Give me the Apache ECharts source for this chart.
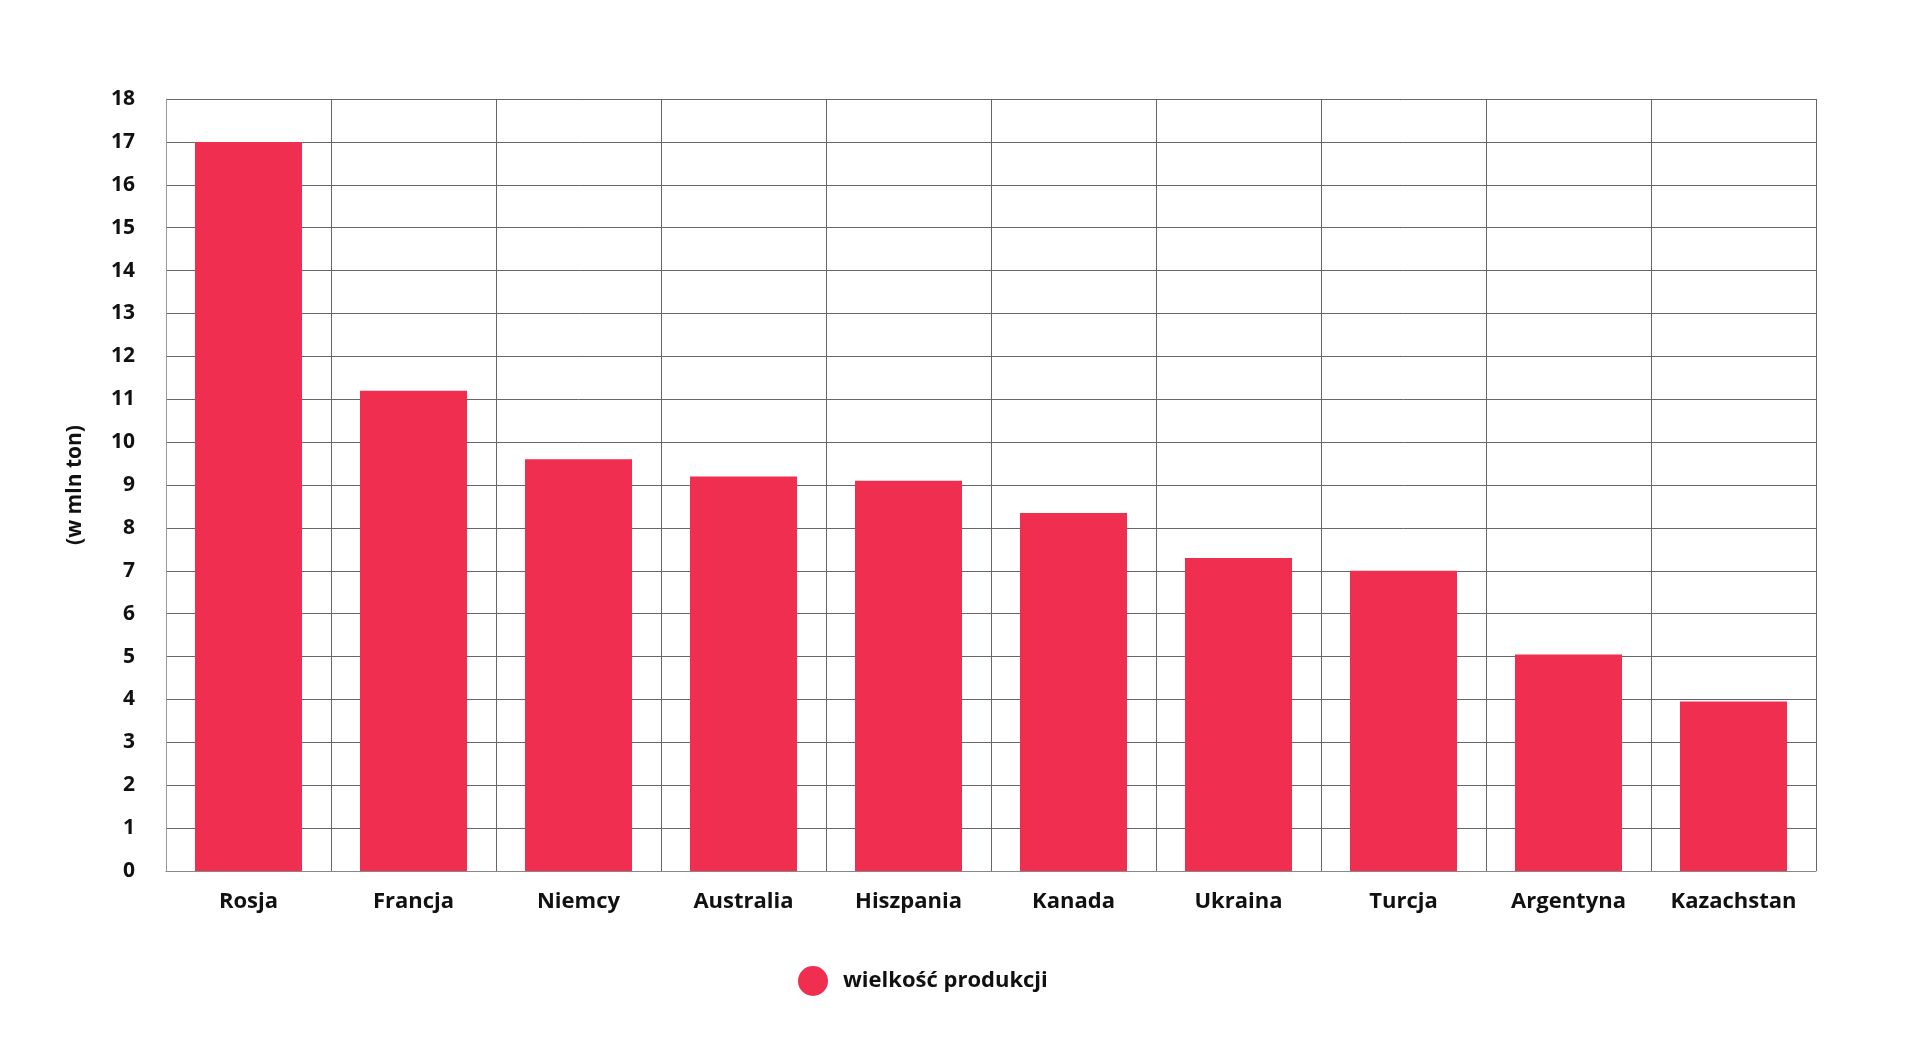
<!DOCTYPE html>
<html>
<head>
<meta charset="utf-8">
<title>wielkość produkcji</title>
<script src="https://cdn.jsdelivr.net/npm/echarts@6/dist/echarts.min.js"></script>
<style>
  html, body { margin: 0; padding: 0; background: #fff; }
  #main { width: 1920px; height: 1044px; }
</style>
</head>
<body>
<div id="main"></div>
<script>
// dane
var kraje = ['Rosja', 'Francja', 'Niemcy', 'Australia', 'Hiszpania', 'Kanada', 'Ukraina', 'Turcja', 'Argentyna', 'Kazachstan'];
var produkcja = [17.0, 11.2, 9.6, 9.2, 9.1, 8.35, 7.3, 7.0, 5.05, 3.95];
var nazwaSerii = 'wielkość produkcji';
var nazwaOsiY = '(w mln ton)';

var font = "'Open Sans', 'Noto Sans', sans-serif";
var chart = echarts.init(document.getElementById('main'), null, { renderer: 'canvas' });

chart.setOption({
  animation: false,
  backgroundColor: '#ffffff',
  grid: {
    left: 166,
    right: 104,
    top: 99,
    bottom: 173
  },
  legend: {
    data: [nazwaSerii],
    left: 793,
    top: 961,
    icon: 'circle',
    itemWidth: 30,
    itemHeight: 30,
    textStyle: {
      fontFamily: font,
      fontWeight: 'bold',
      fontSize: 22,
      color: '#111',
      padding: [0, 0, 0, 10]
    }
  },
  xAxis: {
    type: 'category',
    data: kraje,
    axisLine: { show: true, lineStyle: { color: '#888', width: 1 } },
    axisTick: { show: false },
    splitLine: { show: true, lineStyle: { color: '#666', width: 1 } },
    axisLabel: {
      margin: 20,
      fontFamily: font,
      fontWeight: 'bold',
      fontSize: 22,
      color: '#111',
      interval: 0
    }
  },
  yAxis: {
    type: 'value',
    min: 0,
    max: 18,
    interval: 1,
    name: nazwaOsiY,
    nameLocation: 'middle',
    nameGap: 80,
    nameTextStyle: {
      fontFamily: font,
      fontWeight: 'bold',
      fontSize: 21,
      color: '#111'
    },
    axisLine: { show: true, lineStyle: { color: '#999', width: 1 } },
    axisTick: { show: false },
    splitLine: { show: true, lineStyle: { color: '#666', width: 1 } },
    axisLabel: {
      margin: 31,
      fontFamily: font,
      fontWeight: 'bold',
      fontSize: 21,
      color: '#111'
    }
  },
  series: [{
    name: nazwaSerii,
    type: 'bar',
    data: produkcja,
    barWidth: 107,
    itemStyle: { color: '#ef2e50' }
  }]
});
</script>
</body>
</html>
